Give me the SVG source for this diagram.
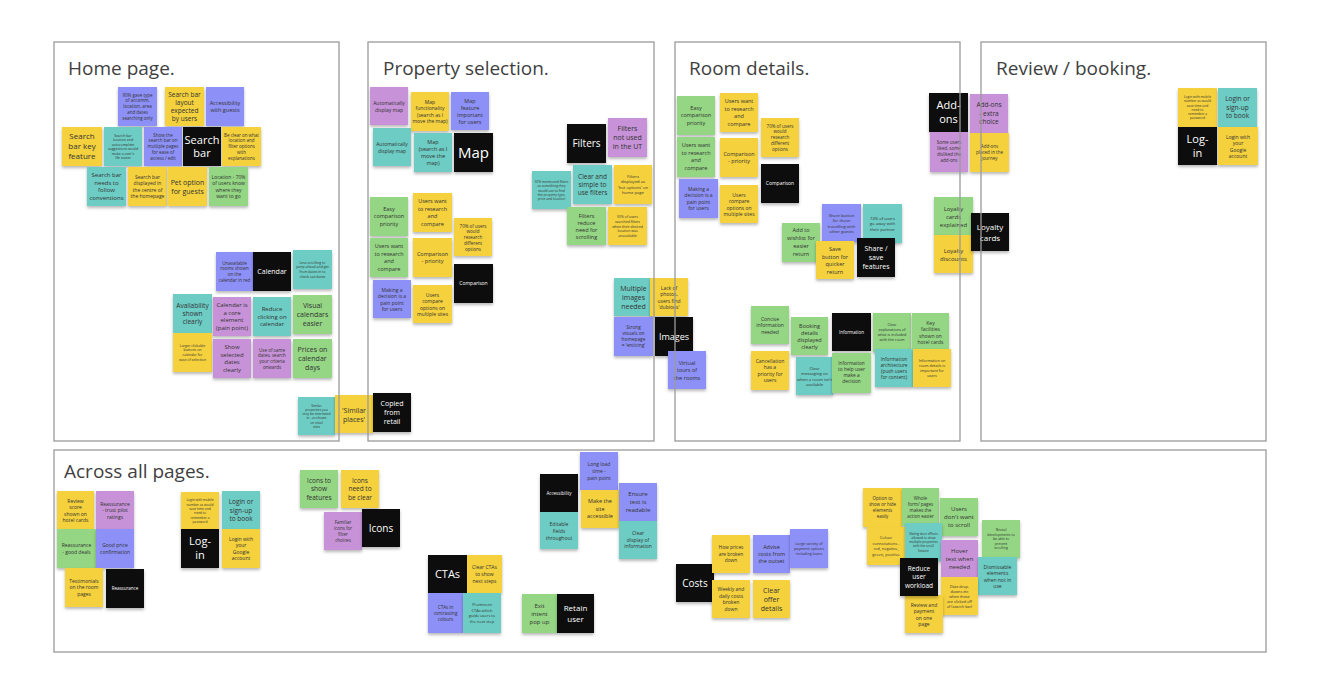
<svg xmlns="http://www.w3.org/2000/svg" width="1336" height="698" viewBox="0 0 1336 698">
<defs>
<filter id="sh" x="-20%" y="-20%" width="140%" height="150%"><feDropShadow dx="0" dy="2" stdDeviation="1.6" flood-color="#000" flood-opacity="0.28"/></filter>
<style>
.n rect{filter:url(#sh)}
.cy{fill:#f5d13e}.cb{fill:#8d90f6}.ct{fill:#6dcdc5}.cg{fill:#94d683}.cp{fill:#c792d7}.ck{fill:#111}
text{font-family:"Open Sans","Noto Sans","Liberation Sans",sans-serif;text-anchor:middle;fill:#333}
text.w{fill:#fff}
.fb{fill:#fff;stroke:none}
.fs{fill:none;stroke:#9a9a9a;stroke-width:1.3}
text.ti{font-size:19px;text-anchor:start;fill:#3f3f3f}
</style>
</defs>
<rect width="1336" height="698" fill="#fff"/>
<g id="frames-bg">
<rect class="fb" x="54" y="42" width="285" height="399"/>
<rect class="fb" x="368" y="42" width="286" height="399"/>
<rect class="fb" x="675" y="42" width="285" height="399"/>
<rect class="fb" x="981" y="42" width="285" height="399"/>
<rect class="fb" x="54" y="450" width="1212" height="202"/>
<text class="ti" x="68" y="75">Home page.</text>
<text class="ti" x="383" y="75">Property selection.</text>
<text class="ti" x="689" y="75">Room details.</text>
<text class="ti" x="996" y="75">Review / booking.</text>
<text class="ti" x="64" y="478">Across all pages.</text>
</g>
<g id="connectors"/>
<g id="notes">
<g id="n1" class="n"><rect class="cb" x="118" y="87" width="39" height="39"/><text style="font-size:4.5px" x="137.5" y="96.7"><tspan x="137.5">90% gave type</tspan><tspan x="137.5" dy="5.7">of accomm,</tspan><tspan x="137.5" dy="5.7">location, area</tspan><tspan x="137.5" dy="5.7">and dates</tspan><tspan x="137.5" dy="5.7">searching only</tspan></text></g>
<g id="n2" class="n"><rect class="cy" x="165" y="87" width="39" height="39"/><text style="font-size:6.5px" x="184.5" y="96.8"><tspan x="184.5">Search bar</tspan><tspan x="184.5" dy="8">layout</tspan><tspan x="184.5" dy="8">expected</tspan><tspan x="184.5" dy="8">by users</tspan></text></g>
<g id="n3" class="n"><rect class="cb" x="206" y="87" width="38" height="39"/><text style="font-size:5.5px" x="225" y="104.9"><tspan x="225">Accessibility</tspan><tspan x="225" dy="7">with guests</tspan></text></g>
<g id="n4" class="n"><rect class="cy" x="62" y="127" width="40" height="39"/><text style="font-size:8px" x="82" y="139.3"><tspan x="82">Search</tspan><tspan x="82" dy="10">bar key</tspan><tspan x="82" dy="10">feature</tspan></text></g>
<g id="n5" class="n"><rect class="ct" x="104" y="127" width="38" height="39"/><text style="font-size:3.5px" x="123" y="136.5"><tspan x="123">Search bar</tspan><tspan x="123" dy="4.5">location and</tspan><tspan x="123" dy="4.5">autocomplete</tspan><tspan x="123" dy="4.5">suggestions would</tspan><tspan x="123" dy="4.5">make a user's</tspan><tspan x="123" dy="4.5">life easier</tspan></text></g>
<g id="n6" class="n"><rect class="cb" x="144" y="127" width="38" height="39"/><text style="font-size:4.5px" x="163" y="136.7"><tspan x="163">Show the</tspan><tspan x="163" dy="5.7">search bar on</tspan><tspan x="163" dy="5.7">multiple pages</tspan><tspan x="163" dy="5.7">for ease of</tspan><tspan x="163" dy="5.7">access / edit</tspan></text></g>
<g id="n7" class="n"><rect class="ck" x="183" y="127" width="38" height="39"/><text class="w" style="font-size:11px" x="202" y="143.9"><tspan x="202">Search</tspan><tspan x="202" dy="13">bar</tspan></text></g>
<g id="n8" class="n"><rect class="cy" x="222" y="127" width="39" height="39"/><text style="font-size:4.5px" x="241.5" y="136.7"><tspan x="241.5">Be clear on what</tspan><tspan x="241.5" dy="5.7">location and</tspan><tspan x="241.5" dy="5.7">filter options</tspan><tspan x="241.5" dy="5.7">with</tspan><tspan x="241.5" dy="5.7">explanations</tspan></text></g>
<g id="n9" class="n"><rect class="ct" x="87" y="167" width="39" height="39"/><text style="font-size:6px" x="106.5" y="177.4"><tspan x="106.5">Search bar</tspan><tspan x="106.5" dy="7.5">needs to</tspan><tspan x="106.5" dy="7.5">follow</tspan><tspan x="106.5" dy="7.5">conventions</tspan></text></g>
<g id="n10" class="n"><rect class="cy" x="128" y="167" width="39" height="39"/><text style="font-size:5px" x="147.5" y="178.5"><tspan x="147.5">Search bar</tspan><tspan x="147.5" dy="6.5">displayed in</tspan><tspan x="147.5" dy="6.5">the centre of</tspan><tspan x="147.5" dy="6.5">the homepage</tspan></text></g>
<g id="n11" class="n"><rect class="cy" x="168" y="167" width="39" height="39"/><text style="font-size:7px" x="187.5" y="184.5"><tspan x="187.5">Pet option</tspan><tspan x="187.5" dy="9">for guests</tspan></text></g>
<g id="n12" class="n"><rect class="cg" x="209" y="167" width="39" height="39"/><text style="font-size:5px" x="228.5" y="178.5"><tspan x="228.5">Location - 70%</tspan><tspan x="228.5" dy="6.5">of users know</tspan><tspan x="228.5" dy="6.5">where they</tspan><tspan x="228.5" dy="6.5">want to go</tspan></text></g>
<g id="n13" class="n"><rect class="cb" x="216" y="252" width="37" height="39"/><text style="font-size:4.5px" x="234.5" y="264.6"><tspan x="234.5">Unavailable</tspan><tspan x="234.5" dy="5.7">rooms shown</tspan><tspan x="234.5" dy="5.7">on the</tspan><tspan x="234.5" dy="5.7">calendar in red</tspan></text></g>
<g id="n14" class="n"><rect class="ck" x="253" y="252" width="38" height="39"/><text class="w" style="font-size:7px" x="272" y="274">Calendar</text></g>
<g id="n15" class="n"><rect class="ct" x="293" y="250" width="39" height="39"/><text style="font-size:3.5px" x="312.5" y="263.7"><tspan x="312.5">Less scrolling to</tspan><tspan x="312.5" dy="4.7">jump ahead and get</tspan><tspan x="312.5" dy="4.7">from dates in to</tspan><tspan x="312.5" dy="4.7">check out dates</tspan></text></g>
<g id="n16" class="n"><rect class="ct" x="173" y="294" width="39" height="39"/><text style="font-size:6.5px" x="192.5" y="307.8"><tspan x="192.5">Availability</tspan><tspan x="192.5" dy="8">shown</tspan><tspan x="192.5" dy="8">clearly</tspan></text></g>
<g id="n17" class="n"><rect class="cp" x="213" y="297" width="38" height="39"/><text style="font-size:6px" x="232" y="307.4"><tspan x="232">Calendar is</tspan><tspan x="232" dy="7.5">a core</tspan><tspan x="232" dy="7.5">element</tspan><tspan x="232" dy="7.5">(pain point)</tspan></text></g>
<g id="n18" class="n"><rect class="ct" x="253" y="297" width="38" height="39"/><text style="font-size:6px" x="272" y="311.1"><tspan x="272">Reduce</tspan><tspan x="272" dy="7.5">clicking on</tspan><tspan x="272" dy="7.5">calendar</tspan></text></g>
<g id="n19" class="n"><rect class="cg" x="293" y="295" width="39" height="39"/><text style="font-size:7px" x="312.5" y="308"><tspan x="312.5">Visual</tspan><tspan x="312.5" dy="9">calendars</tspan><tspan x="312.5" dy="9">easier</tspan></text></g>
<g id="n20" class="n"><rect class="cy" x="173" y="333" width="39" height="39"/><text style="font-size:3.5px" x="192.5" y="346.7"><tspan x="192.5">Larger clickable</tspan><tspan x="192.5" dy="4.7">buttons on</tspan><tspan x="192.5" dy="4.7">calendar for</tspan><tspan x="192.5" dy="4.7">ease of selection</tspan></text></g>
<g id="n21" class="n"><rect class="cp" x="213" y="339" width="38" height="39"/><text style="font-size:6px" x="232" y="349.4"><tspan x="232">Show</tspan><tspan x="232" dy="7.5">selected</tspan><tspan x="232" dy="7.5">dates</tspan><tspan x="232" dy="7.5">clearly</tspan></text></g>
<g id="n22" class="n"><rect class="cp" x="253" y="339" width="38" height="39"/><text style="font-size:4.5px" x="272" y="351.6"><tspan x="272">Use of same</tspan><tspan x="272" dy="5.7">dates, search</tspan><tspan x="272" dy="5.7">your criteria</tspan><tspan x="272" dy="5.7">onwards</tspan></text></g>
<g id="n23" class="n"><rect class="cg" x="293" y="339" width="39" height="39"/><text style="font-size:7px" x="312.5" y="352"><tspan x="312.5">Prices on</tspan><tspan x="312.5" dy="9">calendar</tspan><tspan x="312.5" dy="9">days</tspan></text></g>
<g id="n24" class="n"><rect class="ct" x="298" y="397" width="37" height="38"/><text style="font-size:3.3px" x="316.5" y="406.5"><tspan x="316.5">Similar</tspan><tspan x="316.5" dy="4.3">properties you</tspan><tspan x="316.5" dy="4.3">may be interested</tspan><tspan x="316.5" dy="4.3">in - as shown</tspan><tspan x="316.5" dy="4.3">on retail</tspan><tspan x="316.5" dy="4.3">sites</tspan></text></g>
<g id="n25" class="n"><rect class="cy" x="335" y="395" width="38" height="38"/><text style="font-size:7px" x="354" y="412.5"><tspan x="354">'Similar</tspan><tspan x="354" dy="9">places'</tspan></text></g>
<g id="n26" class="n"><rect class="ck" x="373" y="393" width="38" height="39"/><text class="w" style="font-size:7px" x="392" y="406"><tspan x="392">Copied</tspan><tspan x="392" dy="9">from</tspan><tspan x="392" dy="9">retail</tspan></text></g>
<g id="n27" class="n"><rect class="cp" x="370" y="87" width="38" height="38"/><text style="font-size:5px" x="389" y="105"><tspan x="389">Automatically</tspan><tspan x="389" dy="6.5">display map</tspan></text></g>
<g id="n28" class="n"><rect class="cy" x="411" y="92" width="38" height="39"/><text style="font-size:5px" x="430" y="103.5"><tspan x="430">Map</tspan><tspan x="430" dy="6.5">functionality</tspan><tspan x="430" dy="6.5">(search as I</tspan><tspan x="430" dy="6.5">move the map)</tspan></text></g>
<g id="n29" class="n"><rect class="cb" x="451" y="92" width="38" height="38"/><text style="font-size:5.5px" x="470" y="102.9"><tspan x="470">Map</tspan><tspan x="470" dy="7">feature</tspan><tspan x="470" dy="7">important</tspan><tspan x="470" dy="7">for users</tspan></text></g>
<g id="n30" class="n"><rect class="ct" x="373" y="128" width="38" height="38"/><text style="font-size:5px" x="392" y="146"><tspan x="392">Automatically</tspan><tspan x="392" dy="6.5">display map</tspan></text></g>
<g id="n31" class="n"><rect class="ct" x="414" y="133" width="38" height="39"/><text style="font-size:5.5px" x="433" y="143.9"><tspan x="433">Map</tspan><tspan x="433" dy="7">(search as I</tspan><tspan x="433" dy="7">move the</tspan><tspan x="433" dy="7">map)</tspan></text></g>
<g id="n32" class="n"><rect class="ck" x="454" y="133" width="39" height="39"/><text class="w" style="font-size:15px" x="473.5" y="157.8">Map</text></g>
<g id="n33" class="n"><rect class="cg" x="370" y="197" width="38" height="39"/><text style="font-size:5.5px" x="389" y="210.9"><tspan x="389">Easy</tspan><tspan x="389" dy="7.5">comparison</tspan><tspan x="389" dy="7.5">priority</tspan></text></g>
<g id="n34" class="n"><rect class="cy" x="413" y="193" width="39" height="39"/><text style="font-size:5.5px" x="432.5" y="203.2"><tspan x="432.5">Users want</tspan><tspan x="432.5" dy="7.5">to research</tspan><tspan x="432.5" dy="7.5">and</tspan><tspan x="432.5" dy="7.5">compare</tspan></text></g>
<g id="n35" class="n"><rect class="cy" x="454" y="218" width="38" height="38"/><text style="font-size:4.5px" x="473" y="227.7"><tspan x="473">70% of users</tspan><tspan x="473" dy="5.7">would</tspan><tspan x="473" dy="5.7">research</tspan><tspan x="473" dy="5.7">different</tspan><tspan x="473" dy="5.7">options</tspan></text></g>
<g id="n36" class="n"><rect class="cg" x="370" y="238" width="38" height="39"/><text style="font-size:5.5px" x="389" y="248.2"><tspan x="389">Users want</tspan><tspan x="389" dy="7.5">to research</tspan><tspan x="389" dy="7.5">and</tspan><tspan x="389" dy="7.5">compare</tspan></text></g>
<g id="n37" class="n"><rect class="cy" x="413" y="238" width="39" height="39"/><text style="font-size:5.5px" x="432.5" y="255.7"><tspan x="432.5">Comparison</tspan><tspan x="432.5" dy="7.5">- priority</tspan></text></g>
<g id="n38" class="n"><rect class="ck" x="454" y="264" width="39" height="39"/><text class="w" style="font-size:5px" x="473.5" y="285.3">Comparison</text></g>
<g id="n39" class="n"><rect class="cb" x="373" y="280" width="38" height="38"/><text style="font-size:5px" x="392" y="291.5"><tspan x="392">Making a</tspan><tspan x="392" dy="6.5">decision is a</tspan><tspan x="392" dy="6.5">pain point</tspan><tspan x="392" dy="6.5">for users</tspan></text></g>
<g id="n40" class="n"><rect class="cy" x="413" y="285" width="39" height="38"/><text style="font-size:5px" x="432.5" y="296.5"><tspan x="432.5">Users</tspan><tspan x="432.5" dy="6.5">compare</tspan><tspan x="432.5" dy="6.5">options on</tspan><tspan x="432.5" dy="6.5">multiple sites</tspan></text></g>
<g id="n41" class="n"><rect class="ck" x="567" y="124" width="39" height="39"/><text class="w" style="font-size:10px" x="586.5" y="147">Filters</text></g>
<g id="n42" class="n"><rect class="cp" x="608" y="118" width="39" height="39"/><text style="font-size:7px" x="627.5" y="131"><tspan x="627.5">Filters</tspan><tspan x="627.5" dy="9">not used</tspan><tspan x="627.5" dy="9">in the UT</tspan></text></g>
<g id="n43" class="n"><rect class="ct" x="532" y="171" width="39" height="38"/><text style="font-size:3.3px" x="551.5" y="183.1"><tspan x="551.5">50% mentioned filters</tspan><tspan x="551.5" dy="4.3">as something they</tspan><tspan x="551.5" dy="4.3">would use to find</tspan><tspan x="551.5" dy="4.3">the property type,</tspan><tspan x="551.5" dy="4.3">price and location</tspan></text></g>
<g id="n44" class="n"><rect class="ct" x="573" y="165" width="39" height="39"/><text style="font-size:6.5px" x="592.5" y="178.8"><tspan x="592.5">Clear and</tspan><tspan x="592.5" dy="8">simple to</tspan><tspan x="592.5" dy="8">use filters</tspan></text></g>
<g id="n45" class="n"><rect class="cy" x="614" y="165" width="38" height="39"/><text style="font-size:4.2px" x="633" y="177.75"><tspan x="633">Filters</tspan><tspan x="633" dy="5.5">displayed as</tspan><tspan x="633" dy="5.5">'hot options' on</tspan><tspan x="633" dy="5.5">home page</tspan></text></g>
<g id="n46" class="n"><rect class="cg" x="567" y="207" width="39" height="38"/><text style="font-size:5.5px" x="586.5" y="217.9"><tspan x="586.5">Filters</tspan><tspan x="586.5" dy="7">reduce</tspan><tspan x="586.5" dy="7">need for</tspan><tspan x="586.5" dy="7">scrolling</tspan></text></g>
<g id="n47" class="n"><rect class="cy" x="608" y="207" width="39" height="38"/><text style="font-size:3.5px" x="627.5" y="218.3"><tspan x="627.5">50% of users</tspan><tspan x="627.5" dy="4.7">searched filters</tspan><tspan x="627.5" dy="4.7">when their desired</tspan><tspan x="627.5" dy="4.7">location was</tspan><tspan x="627.5" dy="4.7">unavailable</tspan></text></g>
<g id="n48" class="n"><rect class="ct" x="614" y="278" width="39" height="38"/><text style="font-size:7px" x="633.5" y="291"><tspan x="633.5">Multiple</tspan><tspan x="633.5" dy="9">images</tspan><tspan x="633.5" dy="9">needed</tspan></text></g>
<g id="n49" class="n"><rect class="cy" x="650" y="278" width="38" height="38"/><text style="font-size:5px" x="669" y="289.5"><tspan x="669">Lack of</tspan><tspan x="669" dy="6.5">photos,</tspan><tspan x="669" dy="6.5">users find</tspan><tspan x="669" dy="6.5">'dubious'</tspan></text></g>
<g id="n50" class="n"><rect class="cb" x="614" y="317" width="39" height="39"/><text style="font-size:4.8px" x="633.5" y="329.2"><tspan x="633.5">Strong</tspan><tspan x="633.5" dy="6">visuals on</tspan><tspan x="633.5" dy="6">homepage</tspan><tspan x="633.5" dy="6">= 'enticing'</tspan></text></g>
<g id="n51" class="n"><rect class="ck" x="655" y="317" width="38" height="39"/><text class="w" style="font-size:9px" x="674" y="339.7">Images</text></g>
<g id="n52" class="n"><rect class="cb" x="668" y="351" width="38" height="38"/><text style="font-size:5.5px" x="687" y="364.9"><tspan x="687">Virtual</tspan><tspan x="687" dy="7.5">tours of</tspan><tspan x="687" dy="7.5">the rooms</tspan></text></g>
<g id="n53" class="n"><rect class="cg" x="677" y="96" width="38" height="39"/><text style="font-size:5.5px" x="696" y="109.9"><tspan x="696">Easy</tspan><tspan x="696" dy="7.5">comparison</tspan><tspan x="696" dy="7.5">priority</tspan></text></g>
<g id="n54" class="n"><rect class="cy" x="720" y="93" width="38" height="39"/><text style="font-size:5.5px" x="739" y="103.2"><tspan x="739">Users want</tspan><tspan x="739" dy="7.5">to research</tspan><tspan x="739" dy="7.5">and</tspan><tspan x="739" dy="7.5">compare</tspan></text></g>
<g id="n55" class="n"><rect class="cy" x="761" y="118" width="38" height="39"/><text style="font-size:4.5px" x="780" y="127.7"><tspan x="780">70% of users</tspan><tspan x="780" dy="5.7">would</tspan><tspan x="780" dy="5.7">research</tspan><tspan x="780" dy="5.7">different</tspan><tspan x="780" dy="5.7">options</tspan></text></g>
<g id="n56" class="n"><rect class="cg" x="677" y="137" width="38" height="40"/><text style="font-size:5.5px" x="696" y="147.2"><tspan x="696">Users want</tspan><tspan x="696" dy="7.5">to research</tspan><tspan x="696" dy="7.5">and</tspan><tspan x="696" dy="7.5">compare</tspan></text></g>
<g id="n57" class="n"><rect class="cy" x="720" y="138" width="38" height="39"/><text style="font-size:5.5px" x="739" y="155.7"><tspan x="739">Comparison</tspan><tspan x="739" dy="7.5">- priority</tspan></text></g>
<g id="n58" class="n"><rect class="ck" x="761" y="164" width="38" height="39"/><text class="w" style="font-size:5px" x="780" y="185.3">Comparison</text></g>
<g id="n59" class="n"><rect class="cb" x="679" y="179" width="39" height="39"/><text style="font-size:5px" x="698.5" y="190.5"><tspan x="698.5">Making a</tspan><tspan x="698.5" dy="6.5">decision is a</tspan><tspan x="698.5" dy="6.5">pain point</tspan><tspan x="698.5" dy="6.5">for users</tspan></text></g>
<g id="n60" class="n"><rect class="cy" x="720" y="185" width="38" height="38"/><text style="font-size:5px" x="739" y="196.5"><tspan x="739">Users</tspan><tspan x="739" dy="6.5">compare</tspan><tspan x="739" dy="6.5">options on</tspan><tspan x="739" dy="6.5">multiple sites</tspan></text></g>
<g id="n61" class="n"><rect class="cb" x="822" y="204" width="39" height="38"/><text style="font-size:4.2px" x="841.5" y="216.75"><tspan x="841.5">Share button</tspan><tspan x="841.5" dy="5.5">for those</tspan><tspan x="841.5" dy="5.5">travelling with</tspan><tspan x="841.5" dy="5.5">other guests</tspan></text></g>
<g id="n62" class="n"><rect class="ct" x="863" y="204" width="39" height="39"/><text style="font-size:4.2px" x="882.5" y="219.5"><tspan x="882.5">74% of users</tspan><tspan x="882.5" dy="5.5">go away with</tspan><tspan x="882.5" dy="5.5">their partner</tspan></text></g>
<g id="n63" class="n"><rect class="cg" x="782" y="223" width="38" height="39"/><text style="font-size:5.5px" x="801" y="232.4"><tspan x="801">Add to</tspan><tspan x="801" dy="8">wishlist for</tspan><tspan x="801" dy="8">easier</tspan><tspan x="801" dy="8">return</tspan></text></g>
<g id="n64" class="n"><rect class="cy" x="816" y="241" width="38" height="38"/><text style="font-size:5.5px" x="835" y="251.2"><tspan x="835">Save</tspan><tspan x="835" dy="7.5">button for</tspan><tspan x="835" dy="7.5">quicker</tspan><tspan x="835" dy="7.5">return</tspan></text></g>
<g id="n65" class="n"><rect class="ck" x="857" y="238" width="38" height="39"/><text class="w" style="font-size:7px" x="876" y="251"><tspan x="876">Share /</tspan><tspan x="876" dy="9">save</tspan><tspan x="876" dy="9">features</tspan></text></g>
<g id="n66" class="n"><rect class="cg" x="751" y="306" width="38" height="38"/><text style="font-size:5px" x="770" y="320.75"><tspan x="770">Concise</tspan><tspan x="770" dy="6.5">information</tspan><tspan x="770" dy="6.5">needed</tspan></text></g>
<g id="n67" class="n"><rect class="cg" x="791" y="317" width="37" height="38"/><text style="font-size:5.5px" x="809.5" y="327.9"><tspan x="809.5">Booking</tspan><tspan x="809.5" dy="7">details</tspan><tspan x="809.5" dy="7">displayed</tspan><tspan x="809.5" dy="7">clearly</tspan></text></g>
<g id="n68" class="n"><rect class="ck" x="832" y="313" width="39" height="38"/><text class="w" style="font-size:4.5px" x="851.5" y="334.1">Information</text></g>
<g id="n69" class="n"><rect class="cg" x="873" y="313" width="38" height="39"/><text style="font-size:3.8px" x="892" y="326.3"><tspan x="892">Clear</tspan><tspan x="892" dy="5">explanations of</tspan><tspan x="892" dy="5">what is included</tspan><tspan x="892" dy="5">with the room</tspan></text></g>
<g id="n70" class="n"><rect class="cg" x="912" y="313" width="37" height="39"/><text style="font-size:5px" x="930.5" y="324.5"><tspan x="930.5">Key</tspan><tspan x="930.5" dy="6.5">facilities</tspan><tspan x="930.5" dy="6.5">shown on</tspan><tspan x="930.5" dy="6.5">hotel cards</tspan></text></g>
<g id="n71" class="n"><rect class="cy" x="751" y="351" width="38" height="39"/><text style="font-size:5px" x="770" y="362.5"><tspan x="770">Cancellation</tspan><tspan x="770" dy="6.5">has a</tspan><tspan x="770" dy="6.5">priority for</tspan><tspan x="770" dy="6.5">users</tspan></text></g>
<g id="n72" class="n"><rect class="ct" x="796" y="357" width="37" height="38"/><text style="font-size:4.2px" x="814.5" y="369.75"><tspan x="814.5">Clear</tspan><tspan x="814.5" dy="5.5">messaging on</tspan><tspan x="814.5" dy="5.5">when a room isn't</tspan><tspan x="814.5" dy="5.5">available</tspan></text></g>
<g id="n73" class="n"><rect class="cg" x="832" y="353" width="39" height="40"/><text style="font-size:4.8px" x="851.5" y="365.2"><tspan x="851.5">Information</tspan><tspan x="851.5" dy="6">to help user</tspan><tspan x="851.5" dy="6">make a</tspan><tspan x="851.5" dy="6">decision</tspan></text></g>
<g id="n74" class="n"><rect class="ct" x="875" y="349" width="38" height="38"/><text style="font-size:4.8px" x="894" y="361.2"><tspan x="894">Information</tspan><tspan x="894" dy="6">architecture</tspan><tspan x="894" dy="6">(push users</tspan><tspan x="894" dy="6">for content)</tspan></text></g>
<g id="n75" class="n"><rect class="cy" x="913" y="349" width="38" height="38"/><text style="font-size:3.8px" x="932" y="362.3"><tspan x="932">Information on</tspan><tspan x="932" dy="5">room details is</tspan><tspan x="932" dy="5">important for</tspan><tspan x="932" dy="5">users</tspan></text></g>
<g id="n76" class="n"><rect class="ck" x="929" y="93" width="39" height="39"/><text class="w" style="font-size:11px" x="948.5" y="109.4"><tspan x="948.5">Add-</tspan><tspan x="948.5" dy="14">ons</tspan></text></g>
<g id="n77" class="n"><rect class="cp" x="970" y="94" width="38" height="39"/><text style="font-size:6.5px" x="989" y="107.3"><tspan x="989">Add-ons</tspan><tspan x="989" dy="8.5">- extra</tspan><tspan x="989" dy="8.5">choice</tspan></text></g>
<g id="n78" class="n"><rect class="cp" x="930" y="132" width="38" height="40"/><text style="font-size:4.5px" x="949" y="144.1"><tspan x="949">Some users</tspan><tspan x="949" dy="6">liked, some</tspan><tspan x="949" dy="6">disliked the</tspan><tspan x="949" dy="6">add-ons</tspan></text></g>
<g id="n79" class="n"><rect class="cy" x="970" y="133" width="39" height="39"/><text style="font-size:4.5px" x="989.5" y="148.1"><tspan x="989.5">Add-ons</tspan><tspan x="989.5" dy="6">placed in the</tspan><tspan x="989.5" dy="6">journey</tspan></text></g>
<g id="n80" class="n"><rect class="cg" x="934" y="197" width="39" height="38"/><text style="font-size:6px" x="953.5" y="210.6"><tspan x="953.5">Loyalty</tspan><tspan x="953.5" dy="8">cards</tspan><tspan x="953.5" dy="8">explained</tspan></text></g>
<g id="n81" class="n"><rect class="cy" x="934" y="235" width="39" height="38"/><text style="font-size:6px" x="953.5" y="252.6"><tspan x="953.5">Loyalty</tspan><tspan x="953.5" dy="8">discounts</tspan></text></g>
<g id="n82" class="n"><rect class="ck" x="971" y="213" width="38" height="38"/><text class="w" style="font-size:8px" x="990" y="229.8"><tspan x="990">Loyalty</tspan><tspan x="990" dy="11">cards</tspan></text></g>
<g id="n83" class="n"><rect class="cy" x="1178" y="88" width="39" height="39"/><text style="font-size:3.3px" x="1197.5" y="97.95"><tspan x="1197.5">Login with mobile</tspan><tspan x="1197.5" dy="4.3">number as would</tspan><tspan x="1197.5" dy="4.3">save time and</tspan><tspan x="1197.5" dy="4.3">need to</tspan><tspan x="1197.5" dy="4.3">remember a</tspan><tspan x="1197.5" dy="4.3">password</tspan></text></g>
<g id="n84" class="n"><rect class="ct" x="1218" y="88" width="39" height="39"/><text style="font-size:6.5px" x="1237.5" y="101.3"><tspan x="1237.5">Login or</tspan><tspan x="1237.5" dy="8.5">sign-up</tspan><tspan x="1237.5" dy="8.5">to book</tspan></text></g>
<g id="n85" class="n"><rect class="ck" x="1178" y="127" width="39" height="38"/><text class="w" style="font-size:11px" x="1197.5" y="143.4"><tspan x="1197.5">Log-</tspan><tspan x="1197.5" dy="14">in</tspan></text></g>
<g id="n86" class="n"><rect class="cy" x="1218" y="127" width="40" height="38"/><text style="font-size:5px" x="1238" y="138.5"><tspan x="1238">Login with</tspan><tspan x="1238" dy="6.5">your</tspan><tspan x="1238" dy="6.5">Google</tspan><tspan x="1238" dy="6.5">account</tspan></text></g>
<g id="n87" class="n"><rect class="cy" x="57" y="491" width="37" height="38"/><text style="font-size:5px" x="75.5" y="502.5"><tspan x="75.5">Review</tspan><tspan x="75.5" dy="6.5">score</tspan><tspan x="75.5" dy="6.5">shown on</tspan><tspan x="75.5" dy="6.5">hotel cards</tspan></text></g>
<g id="n88" class="n"><rect class="cp" x="96" y="491" width="38" height="38"/><text style="font-size:5px" x="115" y="505.75"><tspan x="115">Reassurance</tspan><tspan x="115" dy="6.5">- trust pilot</tspan><tspan x="115" dy="6.5">ratings</tspan></text></g>
<g id="n89" class="n"><rect class="cg" x="57" y="529" width="39" height="39"/><text style="font-size:5px" x="76.5" y="547"><tspan x="76.5">Reassurance</tspan><tspan x="76.5" dy="6.5">- good deals</tspan></text></g>
<g id="n90" class="n"><rect class="cb" x="96" y="529" width="38" height="39"/><text style="font-size:5px" x="115" y="547"><tspan x="115">Good price</tspan><tspan x="115" dy="6.5">confirmation</tspan></text></g>
<g id="n91" class="n"><rect class="cy" x="65" y="568" width="38" height="39"/><text style="font-size:5px" x="84" y="582.75"><tspan x="84">Testimonials</tspan><tspan x="84" dy="6.5">on the room</tspan><tspan x="84" dy="6.5">pages</tspan></text></g>
<g id="n92" class="n"><rect class="ck" x="106" y="569" width="38" height="39"/><text class="w" style="font-size:4.5px" x="125" y="590.1">Reassurance</text></g>
<g id="n93" class="n"><rect class="cy" x="181" y="492" width="38" height="38"/><text style="font-size:3.3px" x="200" y="501.45"><tspan x="200">Login with mobile</tspan><tspan x="200" dy="4.3">number as would</tspan><tspan x="200" dy="4.3">save time and</tspan><tspan x="200" dy="4.3">need to</tspan><tspan x="200" dy="4.3">remember a</tspan><tspan x="200" dy="4.3">password</tspan></text></g>
<g id="n94" class="n"><rect class="ct" x="222" y="491" width="38" height="38"/><text style="font-size:6.5px" x="241" y="504.3"><tspan x="241">Login or</tspan><tspan x="241" dy="8.5">sign-up</tspan><tspan x="241" dy="8.5">to book</tspan></text></g>
<g id="n95" class="n"><rect class="ck" x="181" y="529" width="38" height="39"/><text class="w" style="font-size:11px" x="200" y="545.4"><tspan x="200">Log-</tspan><tspan x="200" dy="14">in</tspan></text></g>
<g id="n96" class="n"><rect class="cy" x="222" y="529" width="38" height="39"/><text style="font-size:5px" x="241" y="540.5"><tspan x="241">Login with</tspan><tspan x="241" dy="6.5">your</tspan><tspan x="241" dy="6.5">Google</tspan><tspan x="241" dy="6.5">account</tspan></text></g>
<g id="n97" class="n"><rect class="cg" x="300" y="470" width="38" height="38"/><text style="font-size:6.5px" x="319" y="482.8"><tspan x="319">Icons to</tspan><tspan x="319" dy="8.5">show</tspan><tspan x="319" dy="8.5">features</tspan></text></g>
<g id="n98" class="n"><rect class="cy" x="341" y="470" width="38" height="38"/><text style="font-size:6.5px" x="360" y="482.8"><tspan x="360">Icons</tspan><tspan x="360" dy="8.5">need to</tspan><tspan x="360" dy="8.5">be clear</tspan></text></g>
<g id="n99" class="n"><rect class="cp" x="324" y="512" width="38" height="38"/><text style="font-size:4.5px" x="343" y="523.6"><tspan x="343">Familiar</tspan><tspan x="343" dy="6">icons for</tspan><tspan x="343" dy="6">filter</tspan><tspan x="343" dy="6">choices</tspan></text></g>
<g id="n100" class="n"><rect class="ck" x="362" y="509" width="38" height="38"/><text class="w" style="font-size:10px" x="381" y="531.5">Icons</text></g>
<g id="n101" class="n"><rect class="cb" x="580" y="452" width="38" height="38"/><text style="font-size:5px" x="599" y="465.75"><tspan x="599">Long load</tspan><tspan x="599" dy="7">time -</tspan><tspan x="599" dy="7">pain point</tspan></text></g>
<g id="n102" class="n"><rect class="ck" x="540" y="474" width="38" height="38"/><text class="w" style="font-size:4.5px" x="559" y="494.6">Accessibility</text></g>
<g id="n103" class="n"><rect class="cy" x="581" y="490" width="38" height="38"/><text style="font-size:5.5px" x="600" y="503.4"><tspan x="600">Make the</tspan><tspan x="600" dy="7.5">site</tspan><tspan x="600" dy="7.5">accessible</tspan></text></g>
<g id="n104" class="n"><rect class="ct" x="540" y="512" width="38" height="37"/><text style="font-size:5px" x="559" y="525.75"><tspan x="559">Editable</tspan><tspan x="559" dy="7">fields</tspan><tspan x="559" dy="7">throughout</tspan></text></g>
<g id="n105" class="n"><rect class="cb" x="619" y="483" width="38" height="38"/><text style="font-size:6px" x="638" y="496.1"><tspan x="638">Ensure</tspan><tspan x="638" dy="8">text is</tspan><tspan x="638" dy="8">readable</tspan></text></g>
<g id="n106" class="n"><rect class="ct" x="619" y="521" width="38" height="38"/><text style="font-size:5px" x="638" y="535.25"><tspan x="638">Clear</tspan><tspan x="638" dy="6.5">display of</tspan><tspan x="638" dy="6.5">information</tspan></text></g>
<g id="n107" class="n"><rect class="ck" x="428" y="555" width="39" height="38"/><text class="w" style="font-size:11px" x="447.5" y="578.4">CTAs</text></g>
<g id="n108" class="n"><rect class="cy" x="467" y="555" width="35" height="38"/><text style="font-size:5px" x="484.5" y="569.25"><tspan x="484.5">Clear CTAs</tspan><tspan x="484.5" dy="7">to show</tspan><tspan x="484.5" dy="7">next steps</tspan></text></g>
<g id="n109" class="n"><rect class="cb" x="428" y="593" width="35" height="40"/><text style="font-size:4.5px" x="445.5" y="608.6"><tspan x="445.5">CTAs in</tspan><tspan x="445.5" dy="6">contrasting</tspan><tspan x="445.5" dy="6">colours</tspan></text></g>
<g id="n110" class="n"><rect class="ct" x="463" y="593" width="38" height="40"/><text style="font-size:4px" x="482" y="606.15"><tspan x="482">Prominent</tspan><tspan x="482" dy="5.5">CTAs which</tspan><tspan x="482" dy="5.5">guide users to</tspan><tspan x="482" dy="5.5">the next step</tspan></text></g>
<g id="n111" class="n"><rect class="cg" x="522" y="594" width="35" height="39"/><text style="font-size:6px" x="539.5" y="607.6"><tspan x="539.5">Exit</tspan><tspan x="539.5" dy="8">intent</tspan><tspan x="539.5" dy="8">pop up</tspan></text></g>
<g id="n112" class="n"><rect class="ck" x="557" y="594" width="37" height="39"/><text class="w" style="font-size:8px" x="575.5" y="610.8"><tspan x="575.5">Retain</tspan><tspan x="575.5" dy="11">user</tspan></text></g>
<g id="n113" class="n"><rect class="ck" x="676" y="564" width="38" height="38"/><text class="w" style="font-size:10px" x="695" y="586.5">Costs</text></g>
<g id="n114" class="n"><rect class="cy" x="712" y="535" width="38" height="38"/><text style="font-size:4.8px" x="731" y="549.2"><tspan x="731">How prices</tspan><tspan x="731" dy="6.5">are broken</tspan><tspan x="731" dy="6.5">down</tspan></text></g>
<g id="n115" class="n"><rect class="cb" x="753" y="535" width="37" height="38"/><text style="font-size:5.5px" x="771.5" y="548.9"><tspan x="771.5">Advise</tspan><tspan x="771.5" dy="7">costs from</tspan><tspan x="771.5" dy="7">the outset</tspan></text></g>
<g id="n116" class="n"><rect class="cb" x="790" y="529" width="38" height="39"/><text style="font-size:3.8px" x="809" y="544.8"><tspan x="809">Large variety of</tspan><tspan x="809" dy="5">payment options</tspan><tspan x="809" dy="5">including loans</tspan></text></g>
<g id="n117" class="n"><rect class="cy" x="712" y="580" width="38" height="38"/><text style="font-size:5px" x="731" y="591"><tspan x="731">Weekly and</tspan><tspan x="731" dy="6.5">daily costs</tspan><tspan x="731" dy="6.5">broken</tspan><tspan x="731" dy="6.5">down</tspan></text></g>
<g id="n118" class="n"><rect class="cy" x="753" y="580" width="37" height="38"/><text style="font-size:7px" x="771.5" y="592.5"><tspan x="771.5">Clear</tspan><tspan x="771.5" dy="9">offer</tspan><tspan x="771.5" dy="9">details</tspan></text></g>
<g id="n119" class="n"><rect class="cy" x="863" y="488" width="39" height="39"/><text style="font-size:4.5px" x="882.5" y="500.1"><tspan x="882.5">Option to</tspan><tspan x="882.5" dy="6">show or hide</tspan><tspan x="882.5" dy="6">elements</tspan><tspan x="882.5" dy="6">easily</tspan></text></g>
<g id="n120" class="n"><rect class="cg" x="902" y="488" width="37" height="38"/><text style="font-size:4.5px" x="920.5" y="499.6"><tspan x="920.5">Whole</tspan><tspan x="920.5" dy="6">form/ pages</tspan><tspan x="920.5" dy="6">makes the</tspan><tspan x="920.5" dy="6">action easier</tspan></text></g>
<g id="n121" class="n"><rect class="cg" x="940" y="498" width="38" height="38"/><text style="font-size:6px" x="959" y="511.1"><tspan x="959">Users</tspan><tspan x="959" dy="8">don't want</tspan><tspan x="959" dy="8">to scroll</tspan></text></g>
<g id="n122" class="n"><rect class="cy" x="867" y="527" width="38" height="38"/><text style="font-size:4px" x="886" y="539.15"><tspan x="886">Colour</tspan><tspan x="886" dy="5.5">connotations -</tspan><tspan x="886" dy="5.5">red, negative,</tspan><tspan x="886" dy="5.5">green, positive</tspan></text></g>
<g id="n123" class="n"><rect class="ct" x="905" y="523" width="37" height="38"/><text style="font-size:3.2px" x="923.5" y="534.5"><tspan x="923.5">Sliding door effects</tspan><tspan x="923.5" dy="4.3">allowed to show</tspan><tspan x="923.5" dy="4.3">multiple properties</tspan><tspan x="923.5" dy="4.3">with the scroll</tspan><tspan x="923.5" dy="4.3">feature</tspan></text></g>
<g id="n124" class="n"><rect class="cg" x="982" y="520" width="38" height="38"/><text style="font-size:3.5px" x="1001" y="531.2"><tspan x="1001">Reveal</tspan><tspan x="1001" dy="4.5">developments to</tspan><tspan x="1001" dy="4.5">be able to</tspan><tspan x="1001" dy="4.5">prevent</tspan><tspan x="1001" dy="4.5">scrolling</tspan></text></g>
<g id="n125" class="n"><rect class="cp" x="941" y="540" width="37" height="38"/><text style="font-size:6px" x="959.5" y="553.1"><tspan x="959.5">Hover</tspan><tspan x="959.5" dy="8">text when</tspan><tspan x="959.5" dy="8">needed</tspan></text></g>
<g id="n127" class="n"><rect class="ct" x="978" y="557" width="39" height="38"/><text style="font-size:5px" x="997.5" y="568.5"><tspan x="997.5">Dismissable</tspan><tspan x="997.5" dy="6.5">elements</tspan><tspan x="997.5" dy="6.5">when not in</tspan><tspan x="997.5" dy="6.5">use</tspan></text></g>
<g id="n128" class="n"><rect class="cy" x="941" y="577" width="37" height="38"/><text style="font-size:3.8px" x="959.5" y="587.8"><tspan x="959.5">Date drop-</tspan><tspan x="959.5" dy="5">downs etc</tspan><tspan x="959.5" dy="5">when these</tspan><tspan x="959.5" dy="5">are clicked off</tspan><tspan x="959.5" dy="5">of (search bar)</tspan></text></g>
<g id="n129" class="n"><rect class="cy" x="905" y="595" width="38" height="38"/><text style="font-size:5px" x="924" y="606.5"><tspan x="924">Review and</tspan><tspan x="924" dy="6.5">payment</tspan><tspan x="924" dy="6.5">on one</tspan><tspan x="924" dy="6.5">page</tspan></text></g>
<g id="n126" class="n"><rect class="ck" x="900" y="558" width="38" height="38"/><text class="w" style="font-size:6.5px" x="919" y="570.8"><tspan x="919">Reduce</tspan><tspan x="919" dy="8.5">user</tspan><tspan x="919" dy="8.5">workload</tspan></text></g>
</g>
<g id="frames">
<rect class="fs" x="54" y="42" width="285" height="399"/>
<rect class="fs" x="368" y="42" width="286" height="399"/>
<rect class="fs" x="675" y="42" width="285" height="399"/>
<rect class="fs" x="981" y="42" width="285" height="399"/>
<rect class="fs" x="54" y="450" width="1212" height="202"/>
</g>
</svg>
